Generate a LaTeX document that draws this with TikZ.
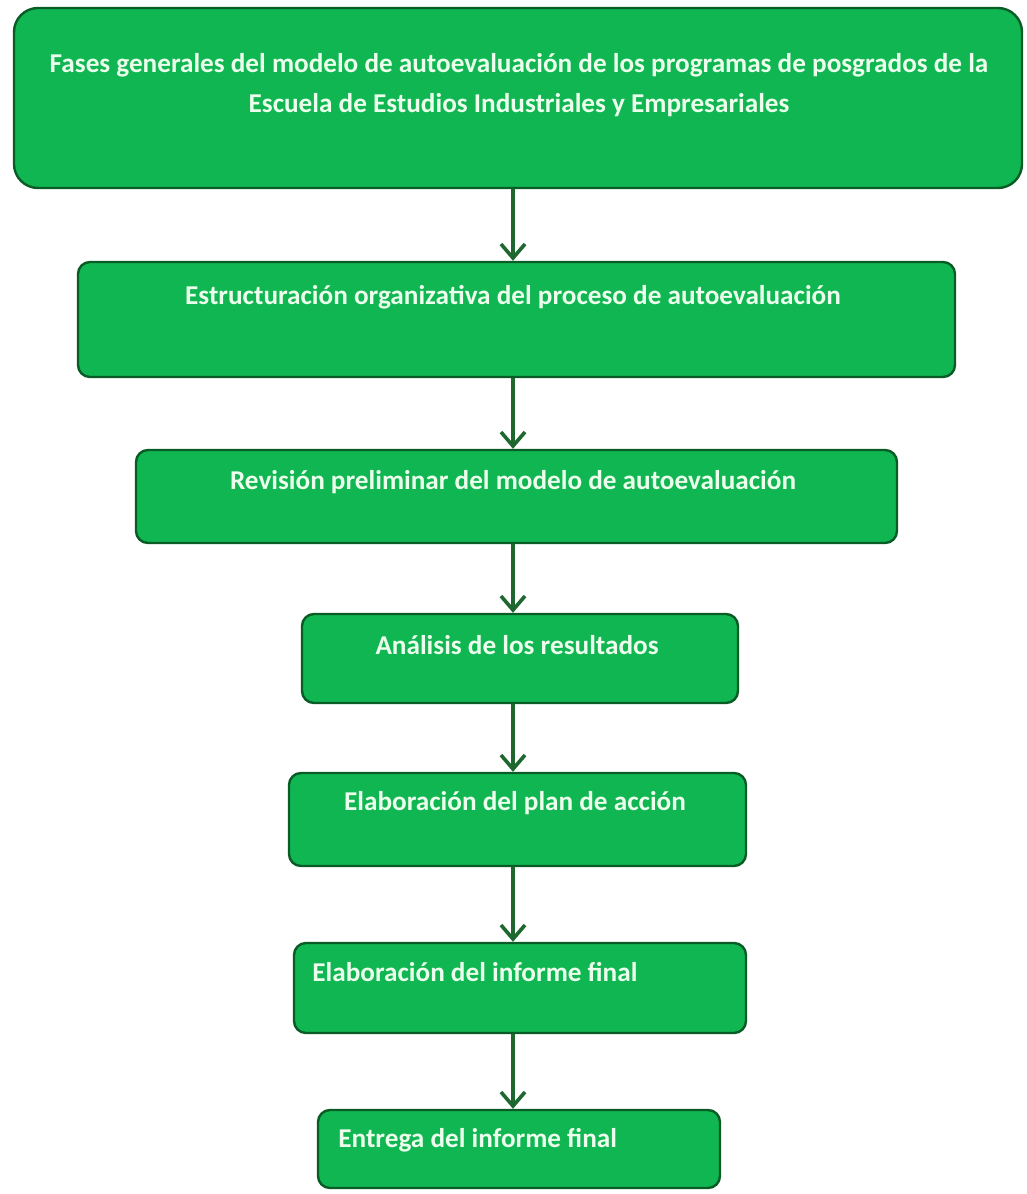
\documentclass[tikz,border=0pt]{standalone}
\usepackage{fontspec}
\setmainfont{Carlito}
\usetikzlibrary{arrows.meta}
\definecolor{faseverde}{RGB}{16,182,82}
\definecolor{bordeverde}{RGB}{10,92,38}
\definecolor{flechaverde}{RGB}{30,104,48}
\definecolor{textoclaro}{RGB}{236,255,236}
\tikzset{
fase/.style={draw=bordeverde, fill=faseverde, line width=1.2pt, rounded corners=6pt}, % cajas de cada fase
fasetxt/.style={text=textoclaro, font=\bfseries\fontsize{13.6}{20}\selectfont, inner sep=0pt, align=center},
flecha/.style={-{Straight Barb[length=7pt,width=12pt,line width=1.8pt]}, line width=1.8pt, draw=flechaverde},
}
\begin{document}
\begin{tikzpicture}[x=0.5pt, y=-0.5pt]
    \useasboundingbox (0,0) rectangle (1027,1194);
    % cajas
    \node[fase, rounded corners=12pt, minimum width=504pt, minimum height=90pt] (f1) at (518,98) {};
    \node[fase, minimum width=438.5pt, minimum height=57.5pt] (f2) at (516.5,319.5) {};
    \node[fase, minimum width=380.5pt, minimum height=46.5pt] (f3) at (516.5,496.5) {};
    \node[fase, minimum width=218pt, minimum height=44.5pt] (f4) at (520,658.5) {};
    \node[fase, minimum width=228.5pt, minimum height=46.5pt] (f5) at (517.5,819.5) {};
    \node[fase, minimum width=226pt, minimum height=45pt] (f6) at (520,988) {};
    \node[fase, minimum width=201pt, minimum height=39pt] (f7) at (519,1149) {};
    % textos
    \node[fasetxt] (t1) at (519,85) {Fases generales del modelo de autoevaluación de los programas de posgrados de la\\Escuela de Estudios Industriales y Empresariales};
    \node[fasetxt] (t2) at (513,297) {Estructuración organizativa del proceso de autoevaluación};
    \node[fasetxt] (t3) at (513,482) {Revisión preliminar del modelo de autoevaluación};
    \node[fasetxt] (t4) at (517,645) {Análisis de los resultados};
    \node[fasetxt] (t5) at (515,803) {Elaboración del plan de acción};
    \node[fasetxt, anchor=west] (t6) at (312,972) {Elaboración del informe final};
    \node[fasetxt, anchor=west] (t7) at (338,1140) {Entrega del informe final};
    % flechas
    \foreach \a/\b in {f1/f2, f2/f3, f3/f4, f4/f5, f5/f6, f6/f7}
        \draw[flecha] (\a.south -| 513,0) -- (\b.north -| 513,0);
\end{tikzpicture}
\end{document}
